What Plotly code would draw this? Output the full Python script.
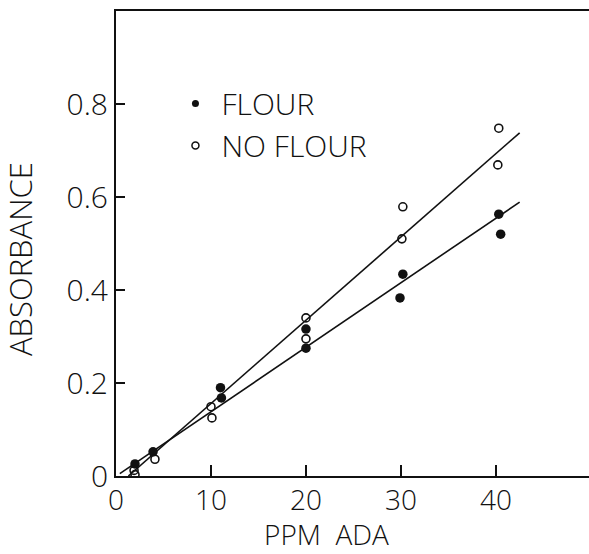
import plotly.graph_objects as go

# Absorbance readings versus ADA concentration (ppm)
flour_ppm = [2.0, 3.9, 11.0, 11.1, 20.0, 20.0, 29.9, 30.2, 40.3, 40.5]
flour_abs = [0.026, 0.052, 0.190, 0.168, 0.316, 0.275, 0.383, 0.434, 0.563, 0.520]

no_flour_ppm = [1.9, 2.0, 4.1, 10.0, 10.1, 20.0, 20.0, 30.1, 30.2, 40.3, 40.2]
no_flour_abs = [0.012, 0.003, 0.036, 0.149, 0.125, 0.340, 0.295, 0.510, 0.579, 0.748, 0.669]

# Fitted straight lines (end points)
flour_fit_ppm = [0.4, 42.5]
flour_fit_abs = [0.005, 0.589]
no_flour_fit_ppm = [1.3, 42.5]
no_flour_fit_abs = [0.0, 0.738]

x_ticks = [0, 10, 20, 30, 40]
x_tick_text = ["0", "10", "20", "30", "40"]
y_ticks = [0, 0.2, 0.4, 0.6, 0.8]
y_tick_text = ["0", "0.2", "0.4", "0.6", "0.8"]

FONT = "Open Sans, DejaVu Sans, sans-serif"
WEIGHT = 300
INK = "#111111"


def font(size):
    return dict(family=FONT, size=size, color=INK, weight=WEIGHT)


fig = go.Figure()

fig.add_trace(go.Scatter(
    x=flour_fit_ppm, y=flour_fit_abs, mode="lines",
    line=dict(color=INK, width=1.6), showlegend=False, hoverinfo="skip"))
fig.add_trace(go.Scatter(
    x=no_flour_fit_ppm, y=no_flour_fit_abs, mode="lines",
    line=dict(color=INK, width=1.6), showlegend=False, hoverinfo="skip"))

fig.add_trace(go.Scatter(
    x=flour_ppm, y=flour_abs, mode="markers", showlegend=False,
    marker=dict(symbol="circle", size=9.5, color=INK, line=dict(width=0))))
fig.add_trace(go.Scatter(
    x=no_flour_ppm, y=no_flour_abs, mode="markers", showlegend=False,
    marker=dict(symbol="circle-open", size=8, color=INK, line=dict(width=1.6))))

# Legend entries
fig.add_trace(go.Scatter(
    x=[None], y=[None], mode="markers", name="FLOUR",
    marker=dict(symbol="circle", size=7, color=INK)))
fig.add_trace(go.Scatter(
    x=[None], y=[None], mode="markers", name="NO FLOUR",
    marker=dict(symbol="circle-open", size=7, color=INK, line=dict(width=1.5))))

fig.update_layout(
    width=589, height=554,
    margin=dict(l=116, r=0, t=11, b=78),
    paper_bgcolor="white", plot_bgcolor="white",
    font=font(28),
    legend=dict(
        x=0.113, y=0.756, xanchor="left", yanchor="middle",
        bgcolor="rgba(0,0,0,0)", borderwidth=0,
        font=font(30),
        itemwidth=42, tracegroupgap=0),
    xaxis=dict(
        range=[0, 49.8], showgrid=False, zeroline=False,
        showline=True, linecolor=INK, linewidth=2, mirror=True,
        ticks="inside", ticklen=11, tickwidth=1.6, tickcolor=INK,
        tickvals=x_ticks, ticktext=x_tick_text,
        tickfont=font(28),
        ticklabelstandoff=-2),
    yaxis=dict(
        range=[0, 1.0], showgrid=False, zeroline=False,
        showline=True, linecolor=INK, linewidth=2, mirror=False,
        ticks="inside", ticklen=9, tickwidth=1.6, tickcolor=INK,
        tickvals=y_ticks, ticktext=y_tick_text,
        tickfont=font(30),
        ticklabelstandoff=0),
    annotations=[
        dict(text="PPM  ADA", xref="paper", yref="paper",
             x=(326 - 116) / 473, y=-(534 - 476) / 465,
             xanchor="center", yanchor="middle", showarrow=False,
             font=font(28)),
        dict(text="ABSORBANCE", xref="paper", yref="paper",
             x=-(116 - 20) / 473, y=(476 - 259) / 465,
             xanchor="center", yanchor="middle", showarrow=False,
             textangle=-90, font=font(31)),
    ],
)

fig.write_html("out.html")
